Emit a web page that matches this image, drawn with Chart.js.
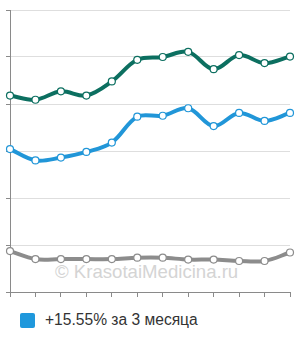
<!DOCTYPE html>
<html>
<head>
<meta charset="utf-8">
<script src="https://cdn.jsdelivr.net/npm/chart.js@4.4.1/dist/chart.umd.min.js"></script>
<style>
  html, body { margin: 0; padding: 0; background: #fff; }
  #wrap { position: relative; width: 300px; height: 340px; font-family: Arial, "Liberation Sans", sans-serif; }
  #chartBox { position: absolute; left: 0; top: 0; width: 300px; height: 300px; }
  #watermark { position: absolute; left: 55px; top: 261px; font-size: 18.6px; color: #d4d4d4; pointer-events: none; white-space: nowrap; }
  #legend { position: absolute; left: 20px; top: 311px; display: flex; align-items: center; font-size: 15.6px; color: #333; }
  #legend .box { width: 15px; height: 15px; background: #1f98dc; border-radius: 2px; margin-right: 10px; }
</style>
</head>
<body>
<div id="wrap">
  <div id="watermark">© KrasotaiMedicina.ru</div>
  <div id="chartBox"><canvas id="priceChart" width="300" height="300"></canvas></div>
  <div id="legend"><span class="box"></span><span>+15.55% за 3 месяца</span></div>
</div>
<script>
// --- Data ---
const months = ['1', '2', '3', '4', '5', '6', '7', '8', '9', '10', '11', '12'];
const tealValues = [4.18, 4.09, 4.27, 4.18, 4.48, 4.94, 5.00, 5.11, 4.74, 5.04, 4.87, 5.01];
const blueValues = [3.04, 2.80, 2.86, 2.98, 3.18, 3.73, 3.75, 3.91, 3.53, 3.81, 3.64, 3.81];
const greyValues = [0.87, 0.70, 0.70, 0.70, 0.70, 0.73, 0.73, 0.69, 0.69, 0.66, 0.66, 0.84];
const yTicks = [0, 1, 2, 3, 4, 5, 6];

document.addEventListener('DOMContentLoaded', function() {
    const ctx = document.getElementById('priceChart').getContext('2d');

    function series(values, color) {
        return {
            data: values,
            borderColor: color,
            borderWidth: 4,
            tension: 0.35,
            pointRadius: 3.5,
            pointBackgroundColor: '#ffffff',
            pointBorderColor: color,
            pointBorderWidth: 1.2,
            clip: false
        };
    }

    new Chart(ctx, {
        type: 'line',
        data: {
            labels: months,
            datasets: [
                series(tealValues, '#0c6f60'),
                series(blueValues, '#2196d8'),
                series(greyValues, '#8c8c8c')
            ]
        },
        options: {
            responsive: false,
            animation: false,
            layout: { padding: { left: 6, right: 10, top: 10, bottom: 3 } },
            scales: {
                x: {
                    offset: false,
                    border: { color: '#8a8a8a', width: 1 },
                    grid: { drawOnChartArea: false, drawTicks: true, tickLength: 5, tickColor: '#8a8a8a' },
                    ticks: { display: false }
                },
                y: {
                    min: yTicks[0],
                    max: yTicks[yTicks.length - 1],
                    afterBuildTicks: function(axis) {
                        axis.ticks = yTicks.map(v => ({ value: v }));
                    },
                    border: { color: '#8a8a8a', width: 1 },
                    grid: { color: '#dedede', lineWidth: 1, drawTicks: true, tickLength: 4, tickColor: '#8a8a8a' },
                    ticks: { display: false }
                }
            },
            plugins: {
                legend: { display: false },
                tooltip: { enabled: false }
            }
        }
    });
});
</script>
</body>
</html>
